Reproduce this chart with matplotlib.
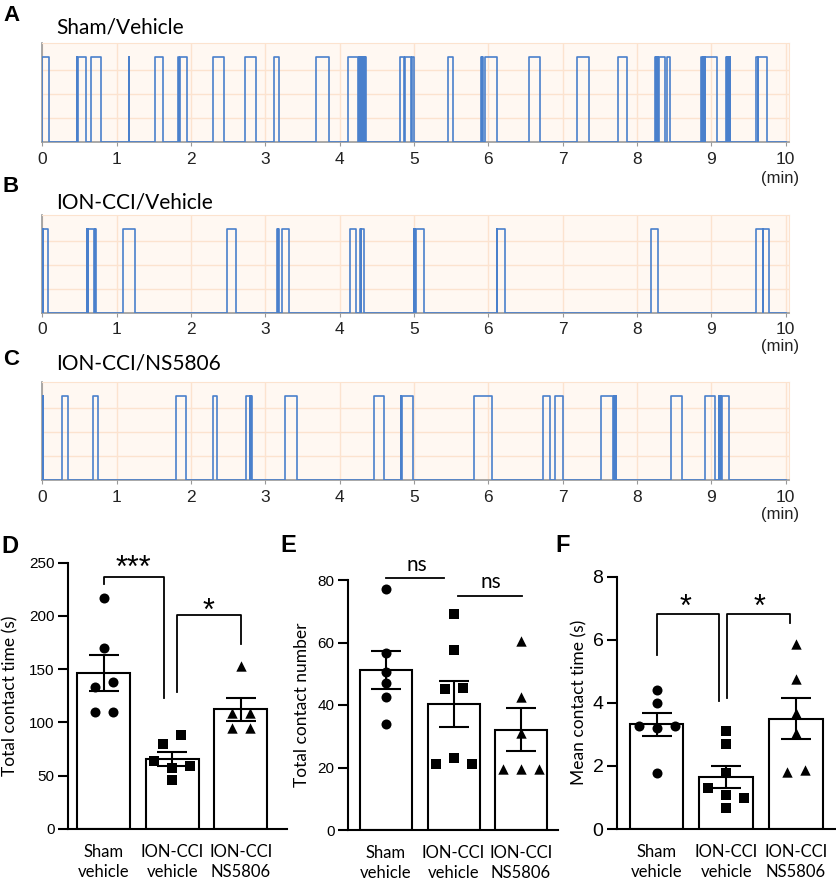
import numpy as np
import matplotlib.pyplot as plt

plt.rcParams['font.family'] = ['Liberation Sans', 'DejaVu Sans']

W, H = 837, 883

# contact bouts (start, end) in minutes
sham_vehicle_bouts = [
    (0.00, 0.09), (0.465, 0.47), (0.474, 0.59), (0.65, 0.79), (1.165, 1.17),
    (1.52, 1.62), (1.83, 1.835), (1.84, 1.845), (1.85, 1.95),
    (2.29, 2.294), (2.298, 2.45), (2.73, 2.87), (3.11, 3.19), (3.68, 3.85),
    (4.11, 4.25), (4.254, 4.26), (4.265, 4.271), (4.276, 4.282), (4.287, 4.293),
    (4.298, 4.304), (4.309, 4.315), (4.32, 4.326), (4.331, 4.337), (4.342, 4.35),
    (4.81, 4.86), (4.88, 4.96), (4.97, 5.00),
    (5.46, 5.52), (5.895, 5.90), (5.905, 5.91), (5.915, 5.922),
    (5.96, 6.11), (6.54, 6.70), (7.19, 7.35), (7.75, 7.86),
    (8.236, 8.242), (8.247, 8.253), (8.258, 8.264), (8.269, 8.275), (8.28, 8.286),
    (8.291, 8.37), (8.40, 8.44),
    (8.863, 8.869), (8.874, 8.88), (8.885, 8.891), (8.896, 8.902), (8.907, 8.913),
    (8.917, 9.07),
    (9.19, 9.196), (9.201, 9.207), (9.212, 9.218), (9.223, 9.229), (9.234, 9.24),
    (9.245, 9.251), (9.254, 9.257),
    (9.597, 9.625), (9.63, 9.754),
]
cci_vehicle_bouts = [
    (0.0, 0.005), (0.01, 0.08),
    (0.60, 0.605), (0.61, 0.615), (0.62, 0.70), (0.705, 0.71), (0.715, 0.72),
    (1.09, 1.25), (2.48, 2.60), (3.16, 3.165), (3.17, 3.18), (3.23, 3.32),
    (4.14, 4.215), (4.27, 4.285), (4.29, 4.33),
    (5.00, 5.005), (5.01, 5.015), (5.02, 5.14),
    (6.11, 6.115), (6.12, 6.22), (8.19, 8.28), (9.60, 9.688), (9.692, 9.77),
]
cci_ns5806_bouts = [
    (0.0, 0.004), (0.008, 0.015),
    (0.27, 0.35), (0.686, 0.753), (1.80, 1.93), (2.29, 2.35),
    (2.735, 2.795), (2.80, 2.805), (2.81, 2.815),
    (3.26, 3.43), (4.46, 4.60),
    (4.825, 4.83), (4.835, 4.99),
    (5.81, 6.05), (6.73, 6.83), (6.89, 7.01),
    (7.51, 7.68), (7.685, 7.69), (7.695, 7.70), (7.705, 7.71), (7.714, 7.72),
    (8.46, 8.61), (8.92, 9.05),
    (9.10, 9.105), (9.11, 9.115), (9.12, 9.125), (9.13, 9.135), (9.14, 9.24),
]
minute_ticks = list(range(11))

groups = ['Sham\nvehicle', 'ION-CCI\nvehicle', 'ION-CCI\nNS5806']

contact_time_sham = [110, 133, 217, 170, 138, 110]
contact_time_cci = [46, 64, 80, 57, 88, 59]
contact_time_ns = [109, 95, 153, 109, 95]

contact_number_sham = [77, 56.5, 50.5, 47, 42.5, 34]
contact_number_cci = [69, 57.5, 45, 21, 23, 45.5, 21]
contact_number_ns = [60.5, 42.5, 31, 19.5, 19.5, 19.5]

mean_time_sham = [4.41, 4.0, 3.27, 3.19, 3.27, 1.79]
mean_time_cci = [3.12, 2.69, 1.77, 1.29, 1.08, 0.97, 0.66]
mean_time_ns = [5.86, 4.76, 3.67, 3.03, 1.82, 1.86]

markers = ['o', 's', '^']
msizes = [52, 46, 56]

fig = plt.figure(figsize=(W / 100, H / 100), dpi=100)


def px_box(l, t, r, b):
    return [l / W, 1 - b / H, (r - l) / W, (b - t) / H]


def ftext(x, y, s, **kw):
    return fig.text(x / W, 1 - y / H, s, **kw)


TRACE = '#4a80cc'
GRID = '#fce3cf'
CAL = ['Lato', 'DejaVu Sans']
ASTER = ['Liberation Sans', 'DejaVu Sans']


def raster(box, bouts, letter, title, let_y, title_y, min_y):
    ax = fig.add_axes(px_box(*box))
    level = 0.875
    xs, ys = [0], [0]
    for s, e in bouts:
        xs += [s, s, e, e]
        ys += [0, level, level, 0]
    xs.append(10)
    ys.append(0)
    ax.plot(xs, ys, color=TRACE, lw=1.2, zorder=3)
    ax.set_xlim(0, 10.04)
    ax.set_ylim(0, 1.02)
    ax.set_facecolor('#fff8f2')
    ax.set_xticks(minute_ticks)
    ax.set_yticks([0.25, 0.5, 0.75])
    ax.set_yticklabels([])
    ax.tick_params(axis='y', length=0)
    ax.tick_params(axis='x', length=3, color='#999999', labelsize=12.5,
                   labelcolor='#222222', pad=4)
    ax.grid(True, color=GRID, lw=1)
    ax.set_axisbelow(True)
    for side in ['top', 'right']:
        ax.spines[side].set_color(GRID)
    for side in ['left', 'bottom']:
        ax.spines[side].set_color('#9a9a9a')
        ax.spines[side].set_linewidth(1.2)
    ftext(3, let_y, letter, fontsize=16, fontweight='bold', va='baseline')
    ftext(56, title_y, title, fontsize=15, family=CAL, va='baseline')
    ftext(780, min_y, '(min)', fontsize=12, ha='center', va='center',
          color='#222222')
    return ax


raster((42.3, 43.3, 788.7, 142.3), sham_vehicle_bouts, 'A', 'Sham/Vehicle',
       20.7, 33.3, 178)
raster((42.3, 215, 788.7, 312.7), cci_vehicle_bouts, 'B', 'ION-CCI/Vehicle',
       191.7, 208.3, 346)
raster((42.3, 381.7, 788.7, 480), cci_ns5806_bouts, 'C', 'ION-CCI/NS5806',
       365, 370, 514)


def swarm_x(ax, center, vals, gap_px=9.5, step_px=18):
    vals = np.asarray(vals, float)
    pts = ax.transData.transform(np.column_stack([np.full(len(vals), center), vals]))
    ypx = pts[:, 1]
    order = np.argsort(vals, kind='stable')
    clusters = [[order[0]]]
    for i in order[1:]:
        if ypx[i] - ypx[clusters[-1][-1]] < gap_px:
            clusters[-1].append(i)
        else:
            clusters.append([i])
    off = np.zeros(len(vals))
    for c in clusters:
        c = sorted(c)
        for k, i in enumerate(c):
            off[i] = (k - (len(c) - 1) / 2) * step_px
    back = ax.transData.inverted().transform(np.column_stack([pts[:, 0] + off, ypx]))
    return back[:, 0]


def bar_panel(box, xlim, ylim, yticks, data, ylabel, ylab_x, tick_fs, ylab_fs,
              letter, letter_xy, brackets, marks):
    ax = fig.add_axes(px_box(*box))
    ax.set_xlim(*xlim)
    ax.set_ylim(*ylim)
    for i, vals in enumerate(data):
        v = np.asarray(vals, float)
        m = v.mean()
        sem = v.std(ddof=1) / np.sqrt(len(v))
        ax.bar(i, m, width=0.77, facecolor='white', edgecolor='black',
               lw=1.5, zorder=1)
        ax.errorbar(i, m, yerr=sem, color='black', capsize=11, elinewidth=1.5,
                    capthick=1.5, zorder=3)
        ax.scatter(swarm_x(ax, i, v), v, marker=markers[i], s=msizes[i],
                   color='black', linewidths=0, zorder=4)
    for (x1, y1), (x2, y2), top in brackets:
        ax.plot([x1, x1, x2, x2], [y1, top, top, y2], color='black', lw=1.3,
                clip_on=False, zorder=5)
    for s, x, y, fam, fs in marks:
        ax.text(x, y, s, ha='center', va='baseline', fontsize=fs,
                family=fam, clip_on=False)
    ax.set_yticks(yticks)
    ax.set_xticks(range(len(groups)))
    ax.set_xticklabels(groups, family=CAL, fontsize=12, linespacing=1.25)
    ax.tick_params(axis='x', length=0, pad=11)
    ax.tick_params(axis='y', length=7, width=1.5, labelsize=tick_fs, pad=3)
    for side in ['top', 'right']:
        ax.spines[side].set_visible(False)
    for side in ['left', 'bottom']:
        ax.spines[side].set_linewidth(1.5)
    ax.set_ylabel(ylabel, family=CAL, fontsize=ylab_fs)
    ax.yaxis.set_label_coords(ylab_x, 0.5)
    ftext(letter_xy[0], letter_xy[1], letter, fontsize=17, fontweight='bold',
          va='baseline')
    return ax


bar_panel((68.3, 562.7, 287, 829), (-0.517, 2.676), (0, 250),
          [0, 50, 100, 150, 200, 250],
          [contact_time_sham, contact_time_cci, contact_time_ns],
          'Total contact time (s)', -0.229, 11, 12.5, 'D', (1.7, 553.3),
          [((0.0, 230), (0.885, 123), 237), ((1.07, 129), (2.01, 174), 201)],
          [('***', 0.43, 236.6, ASTER, 22), ('*', 1.53, 196.5, ASTER, 22)])

bar_panel((348.3, 580, 558, 830), (-0.559, 2.548), (0, 80),
          [0, 20, 40, 60, 80],
          [contact_number_sham, contact_number_cci, contact_number_ns],
          'Total contact number', -0.183, 11, 12.5, 'E', (280, 551.7),
          [((0.0, 80.7), (0.86, 80.7), 80.7), ((1.06, 75), (2.01, 75), 75)],
          [('ns', 0.455, 83.0, CAL, 15), ('ns', 1.55, 77.3, CAL, 15)])

bar_panel((617.3, 576.7, 835, 829), (-0.566, 2.562), (0, 8),
          [0, 2, 4, 6, 8],
          [mean_time_sham, mean_time_cci, mean_time_ns],
          'Mean contact time (s)', -0.135, 14, 12.5, 'F', (555, 552),
          [((0.01, 5.52), (0.9, 4.07), 6.82), ((1.01, 4.14), (1.91, 6.52), 6.82)],
          [('*', 0.42, 6.75, ASTER, 22), ('*', 1.48, 6.75, ASTER, 22)])

fig.savefig('out.png', dpi=100)
